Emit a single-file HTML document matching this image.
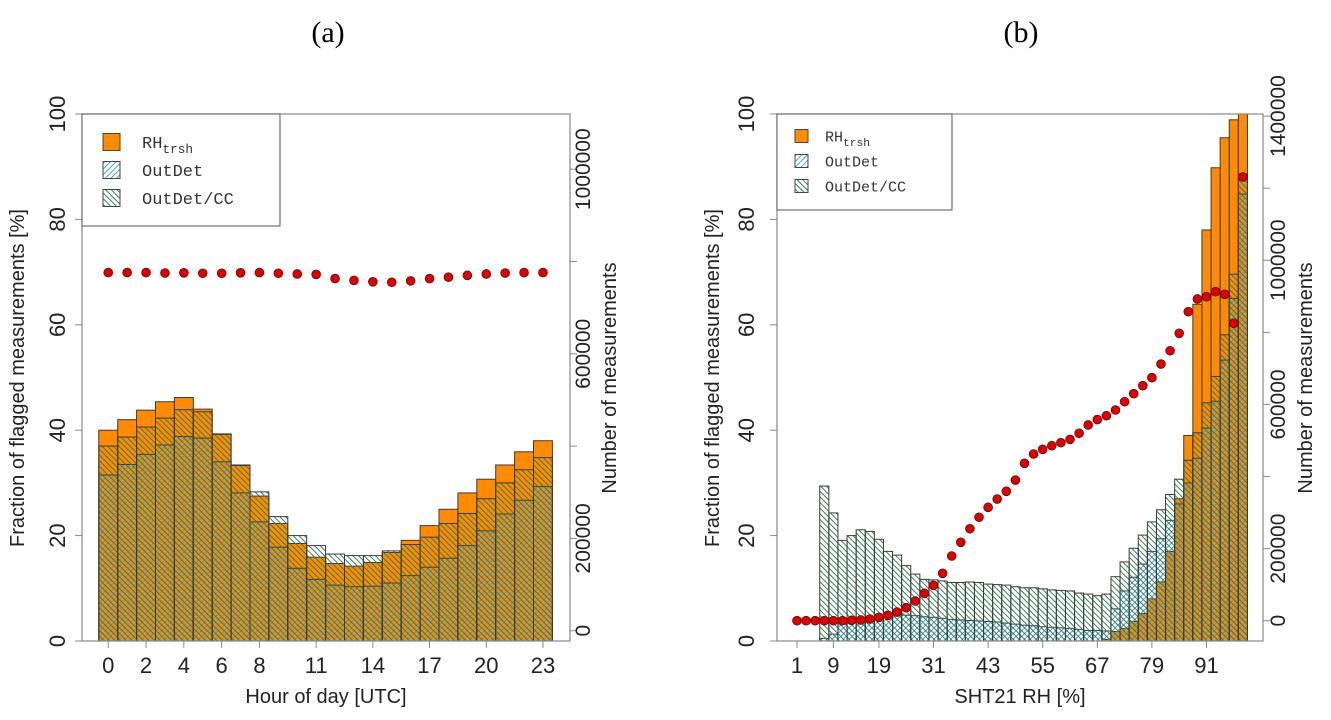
<!DOCTYPE html>
<html><head><meta charset="utf-8"><style>
body{margin:0;background:#fff}
svg{display:block;font-family:"Liberation Sans",sans-serif}
.mono{font-family:"Liberation Mono",monospace}
</style></head><body>
<svg id="chart" width="1331" height="720" viewBox="0 0 1331 720" xmlns="http://www.w3.org/2000/svg">
<defs>
<pattern id="blueHatch" patternUnits="userSpaceOnUse" width="4" height="4" patternTransform="rotate(45)">
<line x1="0" y1="0" x2="0" y2="4" stroke="#3a9fd0" stroke-width="1.9"/></pattern>
<pattern id="greenHatch" patternUnits="userSpaceOnUse" width="4" height="4" patternTransform="rotate(-45)">
<line x1="0" y1="0" x2="0" y2="4" stroke="#2f7a55" stroke-width="1.9"/></pattern>
</defs>
<text x="328" y="42" font-size="30" text-anchor="middle" font-family="Liberation Serif,serif">(a)</text>
<text x="1021" y="42" font-size="30" text-anchor="middle" font-family="Liberation Serif,serif">(b)</text>
<g id="pa"></g>
<g id="pb"></g>
</svg>
<script>
// Panel (a) data
const hoursA = [0,1,2,3,4,5,6,7,8,9,10,11,12,13,14,15,16,17,18,19,20,21,22,23];
const rhA = [40.0,42.0,43.8,45.4,46.2,44.0,39.3,33.4,27.5,22.3,18.5,15.9,14.7,14.2,14.9,16.8,19.1,21.9,25.0,28.1,30.7,33.4,35.9,38.0];
const outdetCcA = [37.0,38.7,40.6,42.3,43.9,43.5,39.2,33.3,28.3,23.6,20.0,18.1,16.5,16.2,16.2,17.1,18.3,19.7,22.3,24.2,27.0,30.0,32.5,34.8];
const outdetA = [31.5,33.5,35.4,37.2,38.8,38.5,34.0,28.1,22.6,17.8,13.8,11.7,10.6,10.3,10.4,11.0,12.4,14.0,15.7,18.1,20.9,24.1,26.7,29.3];
const countsA = [776000,776000,776000,775000,775500,774500,774500,775500,776000,774500,773000,772000,763000,759000,756000,755000,758000,763000,766000,770000,773000,775000,776000,776000];
const xTicksA = [0,2,4,6,8,11,14,17,20,23];
const yTicks = [0,20,40,60,80,100];
const rTicksA = [0,200000,400000,600000,800000,1000000];
const rLabelsA = ["0","200000","","600000","","1000000"];
// Panel (b) data
const binsB = [1,3,5,7,9,11,13,15,17,19,21,23,25,27,29,31,33,35,37,39,41,43,45,47,49,51,53,55,57,59,61,63,65,67,69,71,73,75,77,79,81,83,85,87,89,91,93,95,97,99];
const rhB = [0,0,0,0,0,0,0,0,0,0,0,0,0,0,0,0,0,0,0,0,0,0,0,0,0,0,0,0,0,0,0,0,0,0,0.3,1.8,2.4,3.7,5.2,8.0,11.2,17.0,27.0,39.0,63.9,78.0,89.8,95.5,98.9,100];
const outdetCcB = [0,0,0,29.4,24.3,19.1,20.0,21.1,20.8,19.3,17.0,16.3,14.3,12.7,11.7,11.6,11.4,11.1,11.1,11.2,11.1,10.8,10.7,10.6,10.3,10.1,10.1,9.9,9.7,9.6,9.5,9.1,8.9,8.6,8.9,12.2,15.0,17.6,20.1,22.6,24.9,27.8,30.7,34.3,39.5,45.2,50.2,58.1,69.6,88.6];
const outdetB = [0,0,0,0.5,1.3,3.2,3.5,3.8,4.2,4.5,4.8,5.0,4.9,4.8,4.6,4.5,4.3,4.1,4.0,3.9,3.8,3.7,3.6,3.4,3.2,3.0,2.9,2.7,2.6,2.5,2.4,2.2,2.0,2.0,1.9,6.1,9.5,12.1,14.6,17.0,19.4,22.9,26.0,30.0,34.7,40.4,45.5,53.3,65.0,84.8];
const countsB = [0,0,0,0,0,0,1000,2000,4700,9400,15000,24000,36000,54700,76000,98000,131500,179500,217500,255000,287000,314500,337500,359000,390000,436700,462500,475500,485500,494000,503000,520000,543000,558000,568700,584600,607600,629800,652000,674200,712000,749000,797400,857300,892600,899000,912800,905600,825100,1231000];
const xTicksB = [1,9,19,31,43,55,67,79,91];
const rTicksB = [0,200000,400000,600000,800000,1000000,1200000,1400000];
const rLabelsB = ["0","200000","","600000","","1000000","","1400000"];

const NS="http://www.w3.org/2000/svg";
function mk(parent,tag,attrs,text){const e=document.createElementNS(NS,tag);for(const k in attrs)e.setAttribute(k,attrs[k]);if(text!==undefined)e.textContent=text;parent.appendChild(e);return e;}
const yL = v => 641 - v*5.27;

function legend(g,x0,y0,w,h,ys,sq,fs,tx){
  const lg=mk(g,'g',{});
  
  
  mk(lg,'rect',{x:x0,y:y0,width:w,height:h,fill:'#fff',stroke:'#555','stroke-width':1});
  const names=['RH','OutDet','OutDet/CC'];
  const fills=['#ff8c00','url(#blueHatch)','url(#greenHatch)'];
  for(let i=0;i<3;i++){
    const e=mk(lg,'g',{});
    
    
    mk(e,'rect',{x:x0+sq[0],y:ys[i]-sq[1]/2,width:sq[1],height:sq[1],fill:'#fff',stroke:'#444'});
    mk(e,'rect',{x:x0+sq[0],y:ys[i]-sq[1]/2,width:sq[1],height:sq[1],fill:fills[i],stroke:'#444'});
    const t=mk(e,'text',{x:tx,y:ys[i]+fs*0.35,'font-size':fs,fill:'#333',class:'mono'},names[i]);
    if(i===0){mk(t,'tspan',{'font-size':fs*0.75,dy:fs*0.3},'trsh');}
  }
}

function drawPanel(g,cfg){
  const {L,R,xs,bw,cats,rh,cc,od,counts,xticks,yR,rTicks,rLabels,lblL,lblR,xlab,xlabX,tickLX,tickRX} = cfg;
  for(let i=0;i<cats.length;i++){
    const cx=xs(cats[i]);const x=cx-bw/2;
    const bg=mk(g,'g',{});
    
    
    if(rh[i]>0) mk(bg,'rect',{x:x,y:yL(rh[i]),width:bw,height:rh[i]*5.27,fill:'#ff8c00',stroke:'#3a3a3a','stroke-width':1});
    if(od[i]>0) mk(bg,'rect',{x:x,y:yL(od[i]),width:bw,height:od[i]*5.27,fill:'url(#blueHatch)',stroke:'#3a3a3a','stroke-width':1});
    if(cc[i]>0) mk(bg,'rect',{x:x,y:yL(cc[i]),width:bw,height:cc[i]*5.27,fill:'url(#greenHatch)',stroke:'#3a3a3a','stroke-width':1});
  }
  for(let i=0;i<cats.length;i++){
    const p=mk(g,'circle',{cx:xs(cats[i]),cy:yR(counts[i]),r:4.4,fill:'#e00000',stroke:'#5a1010','stroke-width':0.8});
    
    
  }
  const bx=mk(g,'rect',{x:L,y:114,width:R-L,height:527,fill:'none',stroke:'#888','stroke-width':1.2});
  
  
  for(const v of yTicks){
    const y=yL(v);
    mk(g,'line',{x1:L-7,x2:L,y1:y,y2:y,stroke:'#888'});
    const t=mk(g,'text',{x:tickLX,y:y,'font-size':22,'text-anchor':'middle',transform:`rotate(-90 ${tickLX} ${y})`,fill:'#222'},String(v));
    
    
  }
  rTicks.forEach((v,i)=>{
    const y=yR(v);
    mk(g,'line',{x1:R,x2:R+7,y1:y,y2:y,stroke:'#888'});
    if(rLabels[i]){
      const t=mk(g,'text',{x:tickRX,y:y,'font-size':21,'text-anchor':'middle',transform:`rotate(-90 ${tickRX} ${y})`,fill:'#222'},rLabels[i]);
      
      
    }
  });
  for(const v of xticks){
    const x=xs(v);
    mk(g,'line',{x1:x,x2:x,y1:641,y2:648,stroke:'#888'});
    const t=mk(g,'text',{x:x,y:673,'font-size':22,'text-anchor':'middle',fill:'#222'},String(v));
    
    
  }
  const a=mk(g,'text',{x:lblL,y:378,'font-size':20,'text-anchor':'middle',transform:`rotate(-90 ${lblL} 378)`,fill:'#222'},'Fraction of flagged measurements [%]');
  
  
  const b=mk(g,'text',{x:lblR,y:378,'font-size':20,'text-anchor':'middle',transform:`rotate(-90 ${lblR} 378)`,fill:'#222'},'Number of measurements');
  
  
  const c=mk(g,'text',{x:xlabX,y:703,'font-size':20,'text-anchor':'middle',fill:'#222'},xlab);
  
  
}

const ga=document.getElementById('pa');
drawPanel(ga,{L:82,R:570,xs:h=>98.8+18.9*(h+0.5),bw:18.9,cats:hoursA,rh:rhA,cc:outdetCcA,od:outdetA,counts:countsA,
 xticks:xTicksA,yR:c=>630.7-c*92.3/200000,rTicks:rTicksA,rLabels:rLabelsA,lblL:24,lblR:616,xlab:'Hour of day [UTC]',xlabX:326,tickLX:65,tickRX:590});
legend(ga,82,114,198,112,[142,170,198],[21,17],17,142);

const gb=document.getElementById('pb');
drawPanel(gb,{L:777,R:1263,xs:v=>797+(v-1)*4.55,bw:9.1,cats:binsB,rh:rhB,cc:outdetCcB,od:outdetB,counts:countsB,
 xticks:xTicksB,yR:c=>620.7-c*504.6/1400000,rTicks:rTicksB,rLabels:rLabelsB,lblL:719,lblR:1312,xlab:'SHT21 RH [%]',xlabX:1020,tickLX:754,tickRX:1285});
legend(gb,777,114,175,96,[136,161,186],[18,13],15,825);
</script>
</body></html>
